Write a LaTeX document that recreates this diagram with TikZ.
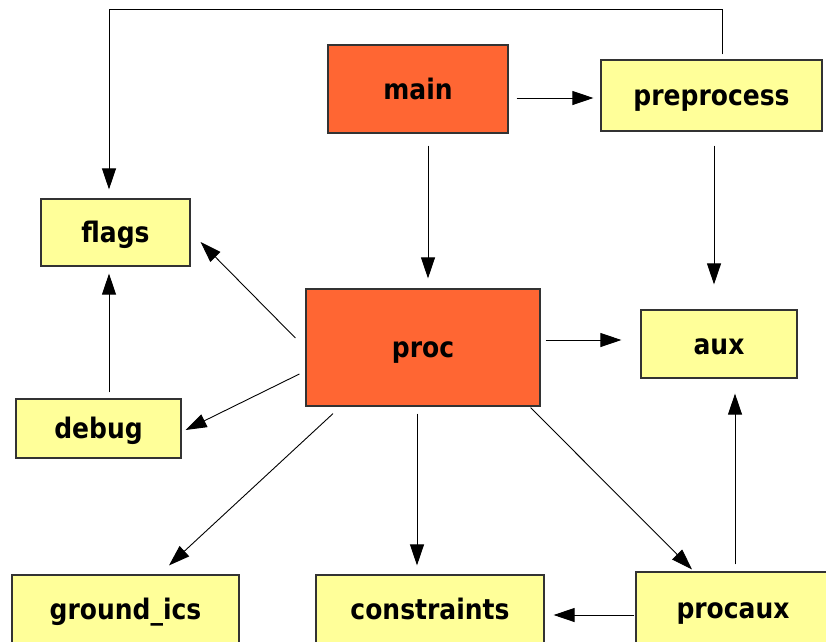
\documentclass[tikz,border=0pt]{standalone}
\usepackage{fontspec}
\setmainfont{DejaVu Sans}
\usetikzlibrary{arrows.meta}
\definecolor{orangebox}{HTML}{FF6633}
\definecolor{yellowbox}{HTML}{FFFF99}
\definecolor{edgegray}{HTML}{333333}
\newcommand\vstretch[1]{\scalebox{1}[1.13]{#1}}
\begin{document}
\begin{tikzpicture}[x=1pt,y=-1pt,
  box/.style={draw=edgegray, line width=1.2pt, inner sep=0pt, text height=22pt, text depth=1.5pt, font=\fontsize{25}{30}\selectfont\bfseries},
  obox/.style={box, fill=orangebox},
  ybox/.style={box, fill=yellowbox},
  arr/.style={draw=black, line width=0.9pt, -{Triangle[length=21pt,width=14pt]}}]
\useasboundingbox (0,0) rectangle (826,641);
\clip (0,0) rectangle (826,641);
\node[obox, minimum width=180pt, minimum height=88pt] (main) at (418,89) {\vstretch{main}};
\node[ybox, minimum width=221pt, minimum height=71pt] (preprocess) at (711.5,95.5) {\vstretch{preprocess}};
\node[ybox, minimum width=149pt, minimum height=67pt] (flags) at (115.5,232.5) {\vstretch{flags}};
\node[obox, minimum width=234pt, minimum height=117pt] (proc) at (423,347.5) {\vstretch{proc}};
\node[ybox, minimum width=156pt, minimum height=68pt] (aux) at (719,344) {\vstretch{aux}};
\node[ybox, minimum width=165pt, minimum height=59pt] (debug) at (98.5,428.5) {\vstretch{debug}};
\node[ybox, minimum width=227pt, minimum height=68pt] (ground) at (125.5,609) {\vstretch{ground\_ics}};
\node[ybox, minimum width=228pt, minimum height=68pt] (constraints) at (430,609) {\vstretch{constraints}};
\node[ybox, minimum width=194pt, minimum height=72pt] (procaux) at (733,608) {\vstretch{procaux}};
\coordinate (tl) at (109,9);
\draw[arr] ([shift={(8,9)}]main.east) -- ([shift={(-7,2.5)}]preprocess.west);
\draw[arr] ([shift={(10,12)}]main.south) -- ([shift={(5,-10)}]proc.north);
\draw[arr] ([shift={(2.5,14)}]preprocess.south) -- ([shift={(-5,-25)}]aux.north);
\draw[arr] ([shift={(10.5,-5)}]preprocess.north) |- (tl) -- ([shift={(-6.5,-9)}]flags.north);
\draw[arr] ([shift={(-10,-9.5)}]proc.west) -- ([shift={(10,9.5)}]flags.east);
\draw[arr] ([shift={(5,-7.5)}]proc.east) -- ([shift={(-19,-4)}]aux.west);
\draw[arr] ([shift={(-6,26.5)}]proc.west) -- ([shift={(4,1.5)}]debug.east);
\draw[arr] ([shift={(-90,7)}]proc.south) -- ([shift={(43.5,-9)}]ground.north);
\draw[arr] ([shift={(-6,7)}]proc.south) -- ([shift={(-13,-9)}]constraints.north);
\draw[arr] ([shift={(-10,1)}]proc.south east) -- ([shift={(-41,-2)}]procaux.north);
\draw[arr] ([shift={(2,-7)}]procaux.north) -- ([shift={(16,15)}]aux.south);
\draw[arr] ([shift={(-1,7)}]procaux.west) -- ([shift={(9,6)}]constraints.east);
\draw[arr] ([shift={(10.5,-6)}]debug.north) -- ([shift={(-6.5,7)}]flags.south);
\end{tikzpicture}
\end{document}
